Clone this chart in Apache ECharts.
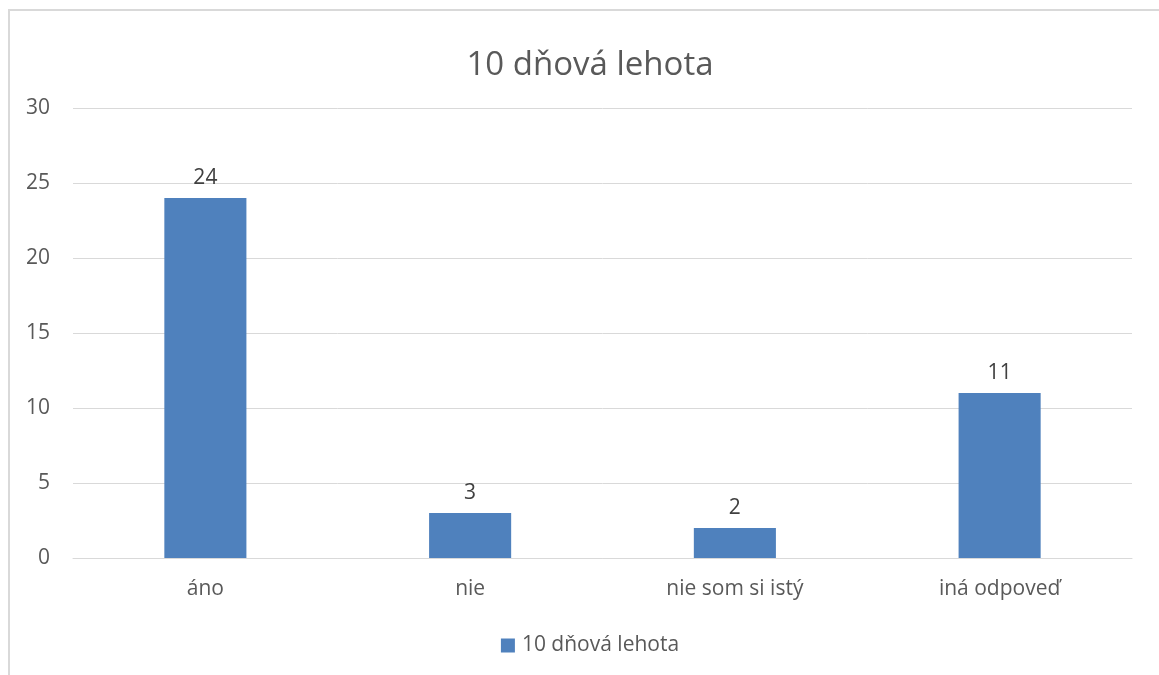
<!DOCTYPE html>
<html>
<head>
<meta charset="utf-8">
<script src="https://cdn.jsdelivr.net/npm/echarts@6/dist/echarts.min.js"></script>
<style>
  html, body { margin: 0; padding: 0; background: #fff; overflow: hidden; }
  #frame { position: absolute; left: 8px; top: 9px; width: 1160px; height: 680px;
           border-left: 2px solid #d9d9d9; border-top: 2px solid #d9d9d9; }
  #main { position: absolute; left: 0; top: 0; width: 1180px; height: 675px; }
</style>
</head>
<body>
<div id="frame"></div>
<div id="main"></div>
<script>
  var categories = ["áno", "nie", "nie som si istý", "iná odpoveď"];
  var values = [24, 3, 2, 11];
  var seriesName = "10 dňová lehota";

  // chart is slightly wider than the window, like the cropped original
  var chart = echarts.init(document.getElementById("main"));
  var font = "'Open Sans', sans-serif";
  var option = {
    animation: false,
    title: {
      text: "10 dňová lehota",
      left: "center",
      top: 44,
      textStyle: { color: "#595959", fontSize: 33, fontWeight: "normal", fontFamily: font }
    },
    legend: {
      data: [seriesName],
      top: 630,
      left: "center",
      icon: "rect",
      itemWidth: 14,
      itemHeight: 14,
      textStyle: { color: "#595959", fontSize: 21, fontFamily: font, padding: [0, 0, 0, 2] }
    },
    grid: { left: 73, right: 48, top: 108, bottom: 117 },
    xAxis: {
      type: "category",
      data: categories,
      axisLine: { lineStyle: { color: "#d9d9d9", width: 1 } },
      axisTick: { show: false },
      axisLabel: { color: "#595959", fontSize: 21, fontFamily: font, margin: 21 }
    },
    yAxis: {
      type: "value",
      min: 0,
      max: 30,
      interval: 5,
      axisLine: { show: false },
      axisTick: { show: false },
      splitLine: { lineStyle: { color: "#d9d9d9", width: 1 } },
      axisLabel: { color: "#595959", fontSize: 21, fontFamily: font, margin: 23 }
    },
    series: [{
      name: seriesName,
      type: "bar",
      data: values,
      barWidth: "31%",
      itemStyle: { color: "#4f81bd" },
      label: { show: true, position: "top", distance: 9, color: "#404040", fontSize: 21, fontFamily: font }
    }]
  };
  chart.setOption(option);
</script>
</body>
</html>
